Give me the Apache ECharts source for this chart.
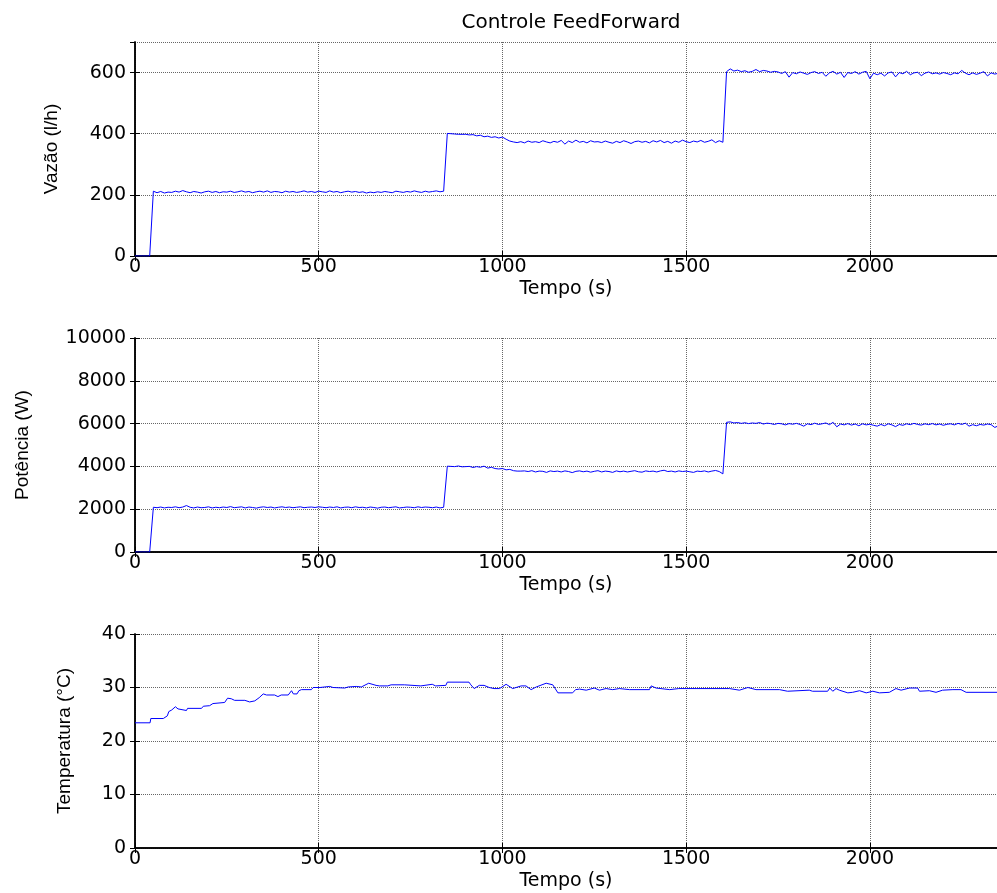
<!DOCTYPE html>
<html>
<head>
<meta charset="utf-8">
<script src="https://cdn.jsdelivr.net/npm/echarts@6/dist/echarts.min.js"></script>
<style>html,body{margin:0;padding:0;background:#fff;}#c{width:997px;height:893px;}</style>
</head>
<body>
<div id="c"></div>
<script>
// Sampling step of the flow and power records (s)
const tempoPasso = 10;

// Vazão (l/h), one value every 10 s from t = 0
const vazao = [
  0,0,0,0,0,212,207,211,206,209,
  208,212,209,214,210,207,211,209,206,210,
  212,208,211,207,210,209,212,208,210,213,
  209,211,207,210,212,209,213,208,211,210,
  207,212,209,211,208,210,213,209,211,208,
  212,210,208,213,209,211,207,210,212,209,
  211,208,210,206,209,207,210,208,211,209,
  207,212,210,208,211,209,213,210,208,212,
  209,211,213,210,212,401,400,399,398,398,
  398,396,397,393,395,390,392,388,390,386,
  389,382,376,373,371,374,370,376,372,374,
  371,377,373,370,375,372,378,366,376,371,
  379,372,375,370,377,373,374,371,376,372,
  369,375,371,377,373,368,374,376,372,375,
  370,377,373,378,371,375,369,376,372,379,
  374,371,376,373,378,372,375,380,371,377,
  372,603,612,605,608,603,606,601,604,610,
  603,607,605,601,604,602,597,603,585,600,
  596,602,598,594,600,603,597,601,588,599,
  604,595,601,584,600,597,603,595,601,604,
  580,598,593,598,589,599,602,586,600,596,
  604,593,599,601,590,598,602,596,599,595,
  600,597,593,599,596,607,598,593,599,594,
  598,603,589,599,595,598
];

// Potência (W), one value every 10 s from t = 0
const potencia = [
  0,0,0,0,0,2090,2070,2100,2060,2090,
  2080,2110,2070,2100,2170,2090,2060,2100,2070,2080,
  2110,2060,2090,2070,2100,2080,2120,2070,2090,2110,
  2060,2100,2080,2050,2090,2110,2080,2100,2060,2090,
  2110,2080,2100,2070,2090,2110,2070,2090,2100,2080,
  2110,2090,2070,2100,2080,2110,2060,2090,2100,2070,
  2110,2080,2090,2060,2100,2080,2050,2090,2100,2070,
  2090,2110,2060,2080,2100,2090,2070,2110,2080,2100,
  2090,2070,2100,2060,2090,4010,4000,3990,4020,3980,
  3990,4000,3950,3990,3960,4010,3920,3960,3900,3880,
  3900,3840,3860,3800,3780,3780,3790,3760,3800,3740,
  3780,3770,3720,3790,3760,3780,3740,3790,3760,3710,
  3770,3790,3750,3780,3730,3770,3800,3740,3780,3760,
  3720,3790,3750,3780,3740,3770,3800,3750,3730,3790,
  3760,3780,3740,3790,3820,3760,3780,3740,3790,3760,
  3780,3750,3720,3780,3760,3790,3740,3780,3810,3760,
  3650,6060,6080,6030,6050,6010,6040,6000,6030,6010,
  6050,5980,6020,6000,5960,6010,5990,5940,6000,5970,
  6010,5960,5880,5990,5950,6020,5960,5990,6030,5950,
  6060,5850,5980,5940,6000,5930,5980,5900,5990,5940,
  5970,5920,5880,5960,5900,5990,5940,5860,5960,5920,
  5990,5950,6010,5960,5930,5990,5950,6000,5940,5980,
  5920,5970,5990,5940,6010,5960,6020,5880,5950,5900,
  5960,5930,5980,5950,5820,5900
];

// Temperatura (°C) breakpoints
const tempTempo = [
  0,41,43,77,88,92,100,110,117,140,143,181,186,203,212,244,252,262,271,299,
  312,326,338,349,358,380,389,398,417,426,431,441,446,453,480,485,503,530,539,571,
  580,602,616,636,656,665,688,697,733,737,778,782,809,818,846,850,909,914,923,937,
  950,964,977,992,1010,1028,1051,1064,1078,1092,1119,1137,1151,1191,1199,1210,1228,1250,1264,1282,
  1300,1318,1346,1400,1405,1418,1455,1480,1527,1618,1645,1668,1690,1754,1776,1835,1844,1885,1891,1899,
  1908,1917,1940,1953,1972,1990,2008,2026,2053,2071,2085,2108,2130,2135,2162,2180,2198,2226,2248,2262,
  2346
];
const temperatura = [
  23.4,23.4,24.2,24.2,24.7,25.5,25.8,26.4,26.0,25.7,26.1,26.1,26.5,26.6,27.0,27.2,28.0,27.9,27.6,27.6,
  27.3,27.5,28.1,28.8,28.6,28.6,28.3,28.6,28.6,29.4,28.8,28.8,29.4,29.6,29.6,30.0,30.0,30.2,30.0,29.9,
  30.1,30.2,30.1,30.8,30.4,30.3,30.3,30.5,30.5,30.3,30.3,30.5,30.6,30.3,30.4,31.0,31.0,30.5,29.8,30.4,
  30.4,30.0,29.8,29.8,30.6,29.8,30.3,30.3,29.6,30.1,30.8,30.5,29.0,29.0,29.6,29.7,29.5,29.9,29.5,29.8,
  29.6,29.8,29.6,29.6,30.3,29.9,29.6,29.8,29.8,29.8,29.5,30.0,29.6,29.6,29.3,29.5,29.3,29.3,29.9,29.3,
  29.8,29.5,29.0,29.1,29.4,29.0,29.3,29.0,29.1,29.8,29.5,29.9,29.9,29.3,29.4,29.1,29.5,29.6,29.6,29.1,
  29.1
];

const tituloTexto = 'Controle FeedForward';
const xNome = 'Tempo (s)';
const yNomes = ['Vazão (l/h)', 'Potência (W)', 'Temperatura (°C)'];
const yMin = [0, 0, 0];
const yMax = [700, 10000, 40];
const yIntervalo = [200, 2000, 10];
const xMin = 0, xMax = 2346, xIntervalo = 500;

const vazaoPts = vazao.map((v, i) => [i * tempoPasso, v]);
const potenciaPts = potencia.map((v, i) => [i * tempoPasso, v]);
const tempPts = temperatura.map((v, i) => [tempTempo[i], v]);
const dados = [vazaoPts, potenciaPts, tempPts];

const tickFont = 'DejaVu Sans';
const nameFont = '"Liberation Sans Narrow", "Liberation Sans", sans-serif';
const gridTops = [42, 338, 634];
const gridH = 214;
const yNameGaps = [74, 103, 61];
const plain = v => String(v);

const grids = [], xAxes = [], yAxes = [], series = [];
for (let g = 0; g < 3; g++) {
  grids.push({ left: 135, top: gridTops[g], width: 863, height: gridH, containLabel: false });
  const baseLine = { show: true, lineStyle: { color: '#000', width: 1.5 } };
  const tick = { show: true, inside: true, length: 5, lineStyle: { color: '#000', width: 1 } };
  xAxes.push({
    type: 'value', gridIndex: g, position: 'bottom', min: xMin, max: xMax, interval: xIntervalo,
    axisLine: baseLine, axisTick: tick,
    axisLabel: { show: true, color: '#000', fontFamily: tickFont, fontSize: 19, margin: 2, showMaxLabel: false, formatter: plain },
    splitLine: { show: true, lineStyle: { color: '#666', type: 'dotted', width: 1 } },
    name: xNome, nameLocation: 'middle', nameGap: 24,
    nameTextStyle: { color: '#000', fontFamily: tickFont, fontSize: 19 }
  });
  xAxes.push({
    type: 'value', gridIndex: g, position: 'top', min: xMin, max: xMax, interval: xIntervalo,
    axisLine: baseLine, axisTick: tick, axisLabel: { show: false }, splitLine: { show: false }
  });
  yAxes.push({
    type: 'value', gridIndex: g, position: 'left', min: yMin[g], max: yMax[g], interval: yIntervalo[g],
    axisLine: baseLine, axisTick: tick,
    axisLabel: { show: true, color: '#000', fontFamily: tickFont, fontSize: 19, margin: 9, showMaxLabel: g === 0 ? false : true, formatter: plain },
    splitLine: { show: true, lineStyle: { color: '#666', type: 'dotted', width: 1 } },
    name: yNomes[g], nameLocation: 'middle', nameGap: yNameGaps[g],
    nameTextStyle: { color: '#000', fontFamily: nameFont, fontSize: 19 }
  });
  yAxes.push({
    type: 'value', gridIndex: g, position: 'right', min: yMin[g], max: yMax[g], interval: yIntervalo[g],
    axisLine: baseLine, axisTick: tick, axisLabel: { show: false }, splitLine: { show: false }
  });
  series.push({
    type: 'line', xAxisIndex: 2 * g, yAxisIndex: 2 * g, data: dados[g],
    showSymbol: false, symbol: 'none', clip: true,
    lineStyle: { color: '#0000ff', width: 1 }, itemStyle: { color: '#0000ff' }
  });
}

const chart = echarts.init(document.getElementById('c'));
chart.setOption({
  backgroundColor: '#fff',
  animation: false,
  title: {
    text: tituloTexto, left: 566, top: 8, textAlign: 'center',
    textStyle: { color: '#000', fontFamily: tickFont, fontSize: 20, fontWeight: 'normal' }
  },
  grid: grids, xAxis: xAxes, yAxis: yAxes, series: series
});
</script>
</body>
</html>
